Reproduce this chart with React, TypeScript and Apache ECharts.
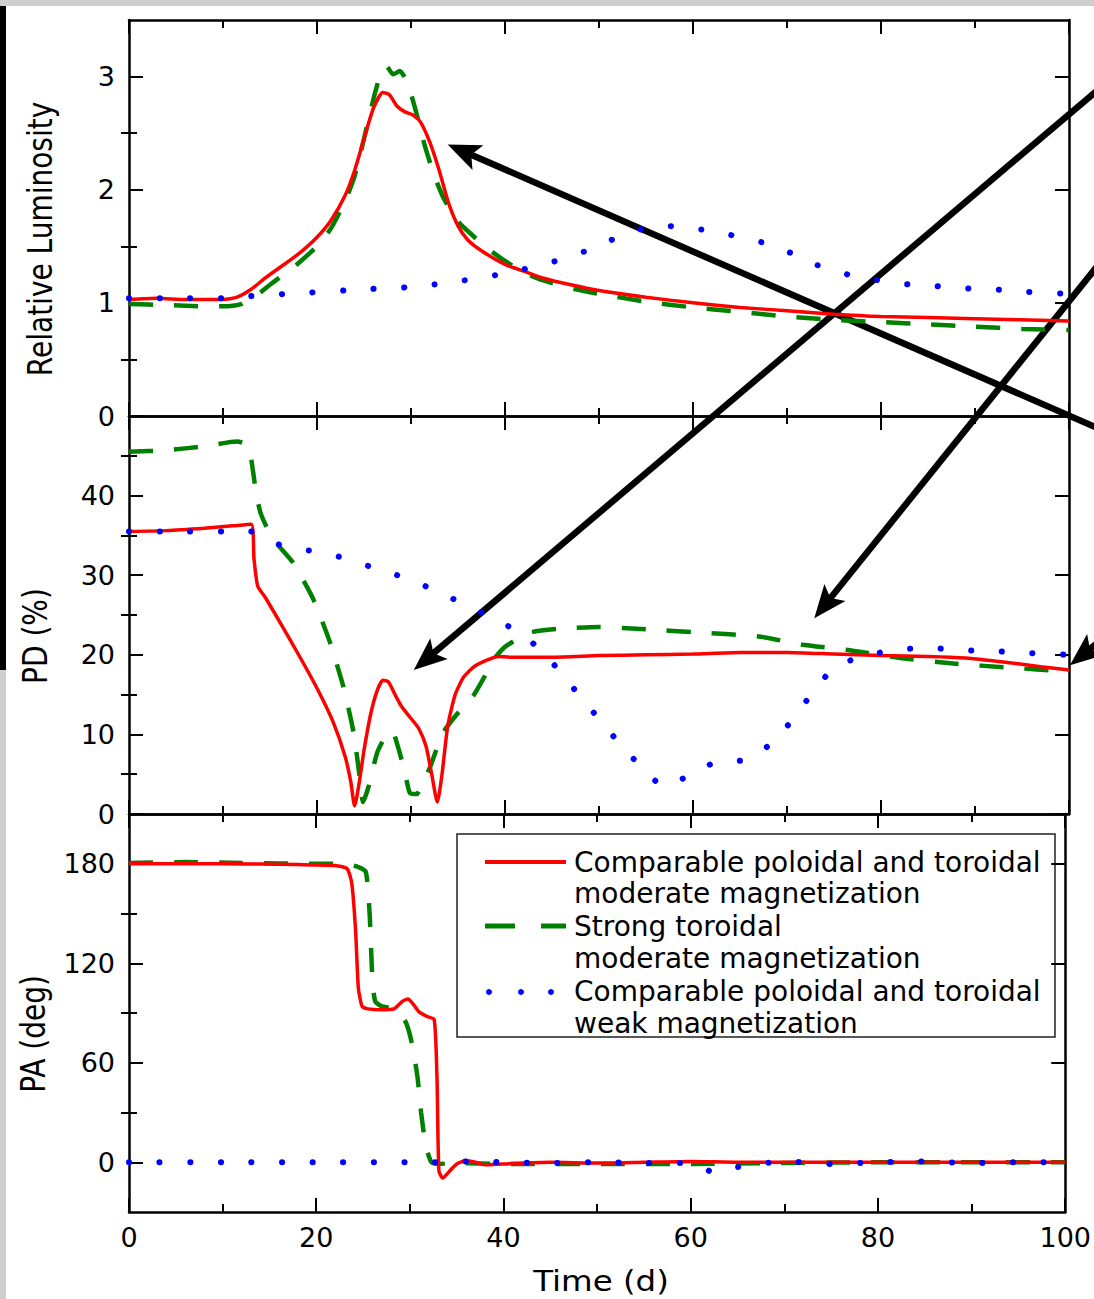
import React, { useEffect, useRef } from "react";
import * as echarts from "echarts";

// ---- time axis (days) ----
const TIME_MIN = 0;
const TIME_MAX = 100;
const TIME_STEP = 20;

// ---- panel y ranges and ticks ----
const lumRange = [0, 3.5];
const lumMajor = [0, 1, 2, 3];
const lumMinor = [0.5, 1.5, 2.5];

const pdRange = [0, 50];
const pdMajor = [0, 10, 20, 30, 40];
const pdMinor = [5, 15, 25, 35, 45];

const paRange = [-30, 210];
const paMajor = [0, 60, 120, 180];
const paMinor = [30, 90, 150];

// ---- model names ----
const nameModerate = "Comparable poloidal and toroidal moderate magnetization";
const nameToroidal = "Strong toroidal moderate magnetization";
const nameWeak = "Comparable poloidal and toroidal weak magnetization";
const legendLines = [
  ["Comparable poloidal and toroidal", "moderate magnetization"],
  ["Strong toroidal", "moderate magnetization"],
  ["Comparable poloidal and toroidal", "weak magnetization"],
];
const panelTitles = ["Relative Luminosity", "PD (%)", "PA (deg)"];
const timeTitle = "Time (d)";

// ---- relative luminosity [t, L] ----
const lumModerate: [number, number][] = [
  [0, 1.03], [3, 1.04], [6, 1.03], [10, 1.03], [11.5, 1.05], [13, 1.12], [14.5, 1.22],
  [16, 1.31], [18, 1.43], [20, 1.58], [21.5, 1.73], [23, 1.95], [24, 2.17], [25, 2.45],
  [26, 2.72], [27, 2.86], [27.7, 2.84], [28.5, 2.74], [29.3, 2.69], [30.2, 2.66],
  [31, 2.6], [32, 2.42], [33, 2.17], [34, 1.88], [35, 1.68], [36, 1.56], [37.5, 1.46],
  [40, 1.34], [42, 1.28], [44, 1.22], [47, 1.16], [50, 1.11], [55, 1.05], [60, 1.0],
  [65, 0.96], [70, 0.93], [75, 0.9], [80, 0.88], [90, 0.86], [100, 0.84],
];
const lumToroidal: [number, number][] = [
  [0, 0.99], [4, 0.98], [8, 0.97], [10.5, 0.97], [12, 0.99], [13.5, 1.06], [15.3, 1.18],
  [17.3, 1.3], [20, 1.5], [21.5, 1.66], [23, 1.9], [24, 2.12], [25, 2.45], [26, 2.8],
  [26.8, 3.03], [27.4, 3.09], [28.1, 3.02], [28.8, 3.05], [29.6, 2.95], [30.5, 2.7],
  [31.5, 2.38], [32.5, 2.12], [33.5, 1.92], [35, 1.72], [36.5, 1.6], [38, 1.49],
  [40, 1.37], [42, 1.27], [44, 1.2], [47, 1.13], [50, 1.08], [55, 1.01], [60, 0.96],
  [65, 0.92], [70, 0.88], [75, 0.85], [80, 0.83], [85, 0.81], [90, 0.79], [95, 0.77],
  [100, 0.76],
];
const lumWeak: [number, number][] = [
  [0, 1.04], [5, 1.04], [10, 1.04], [13, 1.06], [19, 1.09], [25, 1.12], [30, 1.14],
  [35, 1.19], [40, 1.26], [45, 1.36], [49, 1.47], [52, 1.58], [54.5, 1.65], [57, 1.68],
  [60, 1.66], [64, 1.6], [68, 1.52], [71, 1.42], [73, 1.34], [76.5, 1.25], [79, 1.21],
  [82, 1.17], [85.5, 1.15], [88.7, 1.13], [92, 1.12], [95, 1.1], [100, 1.08],
];

// ---- polarization degree [t, %] ----
const pdModerate: [number, number][] = [
  [0, 35.5], [4, 35.6], [8, 35.9], [11, 36.2], [13, 36.4], [13.3, 32], [13.7, 28.6],
  [14.5, 27.2], [16, 24.2], [18, 20.1], [20, 15.8], [21.7, 11.6], [23, 7.2], [23.6, 4],
  [24, 1], [24.5, 4], [25, 8], [25.7, 12.5], [26.4, 15.5], [27, 16.8], [27.6, 16.6],
  [28.3, 15], [29, 13.5], [30, 12], [30.8, 10.8], [31.6, 8.5], [32.2, 5], [32.8, 1.5],
  [33.3, 5], [33.9, 11], [34.7, 15], [35.6, 17.2], [36.7, 18.5], [38, 19.3],
  [39.3, 19.8], [40.5, 19.7], [45, 19.7], [50, 19.9], [55, 20.0], [60, 20.1],
  [65, 20.3], [70, 20.3], [75, 20.1], [80, 19.9], [85, 19.8], [89, 19.6], [93, 19.1],
  [97, 18.5], [100, 18.1],
];
const pdToroidal: [number, number][] = [
  [0, 45.5], [4, 45.7], [8, 46.2], [11.5, 46.8], [12.7, 46.2], [13.2, 43], [13.5, 40.5],
  [14, 37.8], [15, 35.2], [16, 33.6], [17.5, 31.5], [19.6, 27], [21.4, 21.5],
  [22.8, 16], [23.9, 10.2], [24.5, 5], [24.9, 1.5], [25.5, 3.5], [26.4, 7.7],
  [27.3, 9.8], [28, 10.4], [28.6, 8.5], [29.3, 5.5], [29.9, 2.6], [30.6, 2.5],
  [31.3, 4], [32, 5.8], [33.4, 10.2], [35, 12.7], [36.6, 14.8], [37.7, 17],
  [38.8, 19.4], [40, 21], [42.7, 22.8], [46, 23.3], [50, 23.5], [55, 23.2],
  [60.8, 22.8], [67, 22.3], [71.5, 21.3], [76.5, 20.6], [82, 19.6], [87.7, 18.9],
  [93.5, 18.4], [100, 17.9],
];
const pdWeak: [number, number][] = [
  [0, 35.5], [5, 35.5], [10, 35.5], [13, 35.5], [15.5, 34], [18.7, 33.2], [21.8, 32.5],
  [24.8, 31.4], [27.8, 30.3], [30.8, 29], [33.6, 27.5], [36.5, 25.9], [39.3, 24.2],
  [41.6, 22.8], [44.3, 20], [47, 16.2], [49.6, 12.5], [52.3, 8.7], [55, 5.3],
  [56.9, 3.5], [59.7, 4.9], [62.4, 6.5], [65.6, 6.8], [68.8, 9.3], [71.6, 13.5],
  [73.3, 16.1], [75.1, 18.5], [78.4, 19.9], [81.6, 20.6], [84.9, 20.9], [88, 20.6],
  [91.4, 20.5], [94.6, 20.3], [97.9, 20.1], [100, 20.0],
];

// ---- polarization angle [t, deg] ----
const paModerate: [number, number][] = [
  [0, 180], [10, 180], [18, 179.5], [22, 179], [23.3, 177], [23.8, 168], [24.2, 140],
  [24.5, 105], [24.9, 94], [25.5, 92.5], [27, 92], [28.3, 92.5], [29.2, 97],
  [29.8, 98.5], [30.4, 95], [31, 90.5], [31.8, 88], [32.6, 86], [32.9, 50], [33.1, -5],
  [33.5, -9.5], [34.3, -5], [35, -1], [36, 1], [37, 0], [38, -1.5], [40, -1], [45, 0],
  [50, -0.5], [55, 0], [60, 0.5], [65, 0], [70, 0], [80, 0], [90, 0], [100, 0],
];
const paToroidal: [number, number][] = [
  [0, 180.5], [6, 181], [12, 180.5], [20, 180], [23, 180], [24.5, 178], [25.3, 175],
  [25.7, 150], [26, 110], [26.3, 97], [27, 94], [28, 93], [29, 89], [29.6, 84],
  [30.2, 72], [30.8, 52], [31.2, 30], [31.7, 10], [32.3, 0], [33, -1], [35, -0.5],
  [40, -1], [50, -1], [60, -1], [70, -0.5], [80, 0], [90, 0], [100, 0],
];
const paWeak: [number, number][] = [
  [0, 0], [10, 0], [20, 0], [30, 0], [33, 0], [36, 0.5], [40, 0], [45, -0.5], [50, 0],
  [55, -0.5], [59, -0.5], [61, -2], [62.5, -6.5], [64, -4], [66, -2], [70, 0.5],
  [75, -1], [80, 0], [85, 0.5], [90, -0.5], [95, 0], [100, 0],
];

// ---- annotation arrows: panel, tip and tail in that panel's data units ----
const arrows = [
  { panel: 0, tip: [33.9, 2.4], tail: [103.4, -0.12] },
  { panel: 1, tip: [30.3, 18.1], tail: [103.4, 91.3] },
  { panel: 1, tip: [72.9, 24.6], tail: [103.4, 69.4] },
  { panel: 1, tip: [100.1, 18.7], tail: [104.5, 22.9] },
];

const FONT = "DejaVu Sans";
const RED = "#ff0000";
const GREEN = "#008000";
const BLUE = "#0000ff";

export default function App() {
  const ref = useRef<HTMLDivElement>(null);

  useEffect(() => {
    const el = ref.current;
    if (!el) return;
    const chart = echarts.init(el, null, { renderer: "svg" });

    const layout = [
      { top: 20, height: 396 },
      { top: 416, height: 398 },
      { top: 814, height: 398 },
    ];
    const yspec = [
      { range: lumRange, major: lumMajor, minor: lumMinor },
      { range: pdRange, major: pdMajor, minor: pdMinor },
      { range: paRange, major: paMajor, minor: paMinor },
    ];

    const grid: any[] = [];
    const xAxis: any[] = [];
    const yAxis: any[] = [];
    const frame = { show: true, onZero: false, lineStyle: { color: "#000", width: 2.5 } };
    const tickStyle = { color: "#000", width: 2 };

    layout.forEach((g, i) => {
      grid.push({ left: 129, right: 25, top: g.top, height: g.height });
      (["bottom", "top"] as const).forEach((pos) => {
        xAxis.push({
          type: "value",
          gridIndex: i,
          position: pos,
          min: TIME_MIN,
          max: TIME_MAX,
          interval: TIME_STEP,
          axisLine: frame,
          axisTick: { show: true, inside: true, length: 14, lineStyle: tickStyle },
          minorTick: { show: true, splitNumber: 2, length: 8, lineStyle: tickStyle },
          axisLabel: {
            show: i === 2 && pos === "bottom",
            color: "#000",
            fontFamily: FONT,
            fontSize: 27,
            margin: 12,
          },
          splitLine: { show: false },
        });
      });
      const s = yspec[i];
      (["left", "right"] as const).forEach((pos) => {
        yAxis.push({
          type: "value",
          gridIndex: i,
          position: pos,
          min: s.range[0],
          max: s.range[1],
          axisLine: frame,
          axisTick: {
            show: true,
            inside: true,
            length: 14,
            lineStyle: tickStyle,
            customValues: s.major,
          },
          axisLabel: {
            show: pos === "left",
            customValues: s.major,
            color: "#000",
            fontFamily: FONT,
            fontSize: 27,
            margin: 14,
          },
          splitLine: { show: false },
        });
        yAxis.push({
          type: "value",
          gridIndex: i,
          position: pos,
          min: s.range[0],
          max: s.range[1],
          axisLine: { show: false },
          axisTick: {
            show: true,
            inside: true,
            length: 8,
            lineStyle: tickStyle,
            customValues: s.minor,
          },
          axisLabel: { show: false },
          splitLine: { show: false },
        });
      });
    });

    const panelData = [
      [lumToroidal, lumModerate, lumWeak],
      [pdToroidal, pdModerate, pdWeak],
      [paToroidal, paModerate, paWeak],
    ];
    const styles = [
      { name: nameToroidal, lineStyle: { color: GREEN, width: 4.5, type: [24, 21] } },
      { name: nameModerate, lineStyle: { color: RED, width: 3.5 } },
      { name: nameWeak, lineStyle: { color: BLUE, width: 6, type: [0.1, 30.5], cap: "round" } },
    ];

    const series: any[] = [];
    panelData.forEach((set, i) => {
      set.forEach((data, k) => {
        series.push({
          type: "line",
          name: styles[k].name,
          xAxisIndex: i * 2,
          yAxisIndex: i * 4,
          data,
          showSymbol: false,
          symbol: "none",
          smooth: 0.2,
          lineStyle: styles[k].lineStyle,
          z: 2 + k,
        });
      });
    });

    chart.setOption({
      animation: false,
      backgroundColor: "#ffffff",
      grid,
      xAxis,
      yAxis,
      series,
    });

    // static decoration, titles and legend
    const graphics: any[] = [];
    graphics.push(
      { type: "rect", shape: { x: 0, y: 0, width: 1094, height: 6 }, style: { fill: "#cfcfcf" } },
      { type: "rect", shape: { x: 0, y: 6, width: 6, height: 664 }, style: { fill: "#000" } },
      { type: "rect", shape: { x: 0, y: 670, width: 6, height: 629 }, style: { fill: "#cfcfcf" } }
    );

    const titlePos = [
      [40, 239],
      [35, 636],
      [33, 1034],
    ];
    panelTitles.forEach((t, i) => {
      graphics.push({
        type: "text",
        x: titlePos[i][0],
        y: titlePos[i][1],
        rotation: Math.PI / 2,
        scaleY: 1.22,
        style: {
          text: t,
          fill: "#000",
          fontFamily: FONT,
          fontSize: 28,
          align: "center",
          verticalAlign: "middle",
        },
      });
    });
    graphics.push({
      type: "text",
      x: 601,
      y: 1281,
      scaleX: 1.12,
      style: {
        text: timeTitle,
        fill: "#000",
        fontFamily: FONT,
        fontSize: 29,
        align: "center",
        verticalAlign: "middle",
      },
    });

    // legend box
    const legendChildren: any[] = [
      {
        type: "rect",
        shape: { x: 457, y: 834, width: 598, height: 203 },
        style: { fill: "#fff", stroke: "#222", lineWidth: 1.5 },
      },
      {
        type: "line",
        shape: { x1: 485, y1: 862, x2: 566, y2: 862 },
        style: { stroke: RED, lineWidth: 4 },
      },
      {
        type: "line",
        shape: { x1: 485, y1: 926, x2: 515, y2: 926 },
        style: { stroke: GREEN, lineWidth: 5 },
      },
      {
        type: "line",
        shape: { x1: 541, y1: 926, x2: 566, y2: 926 },
        style: { stroke: GREEN, lineWidth: 5 },
      },
    ];
    [489, 521, 551].forEach((cx) =>
      legendChildren.push({ type: "circle", shape: { cx, cy: 992, r: 3 }, style: { fill: BLUE } })
    );
    const rowY = [862, 893, 926, 958, 991, 1023];
    legendLines.flat().forEach((line, j) => {
      legendChildren.push({
        type: "text",
        x: 574,
        y: rowY[j],
        style: {
          text: line,
          fill: "#000",
          fontFamily: FONT,
          fontSize: 28,
          align: "left",
          verticalAlign: "middle",
        },
      });
    });
    graphics.push({ type: "group", z: 50, children: legendChildren });

    // arrows
    arrows.forEach((a) => {
      const finder = { xAxisIndex: a.panel * 2, yAxisIndex: a.panel * 4 };
      const tip = chart.convertToPixel(finder, a.tip) as number[];
      const tail = chart.convertToPixel(finder, a.tail) as number[];
      const dx = tip[0] - tail[0];
      const dy = tip[1] - tail[1];
      const len = Math.hypot(dx, dy);
      const ux = dx / len;
      const uy = dy / len;
      const nx = -uy;
      const ny = ux;
      const L = 33;
      const W = 13.5;
      const bx = tip[0] - ux * L;
      const by = tip[1] - uy * L;
      const notchX = tip[0] - ux * L * 0.78;
      const notchY = tip[1] - uy * L * 0.78;
      graphics.push({
        type: "group",
        z: 60,
        children: [
          {
            type: "line",
            shape: { x1: tail[0], y1: tail[1], x2: notchX + ux * 2, y2: notchY + uy * 2 },
            style: { stroke: "#000", lineWidth: 6.5 },
          },
          {
            type: "polygon",
            shape: {
              points: [
                [tip[0], tip[1]],
                [bx + nx * W, by + ny * W],
                [notchX, notchY],
                [bx - nx * W, by - ny * W],
              ],
            },
            style: { fill: "#000" },
          },
        ],
      });
    });

    chart.setOption({ graphic: graphics });

    return () => {
      chart.dispose();
    };
  }, []);

  return (
    <div
      ref={ref}
      style={{
        position: "absolute",
        left: 0,
        top: 0,
        width: 1094,
        height: 1299,
        background: "#ffffff",
      }}
    />
  );
}
